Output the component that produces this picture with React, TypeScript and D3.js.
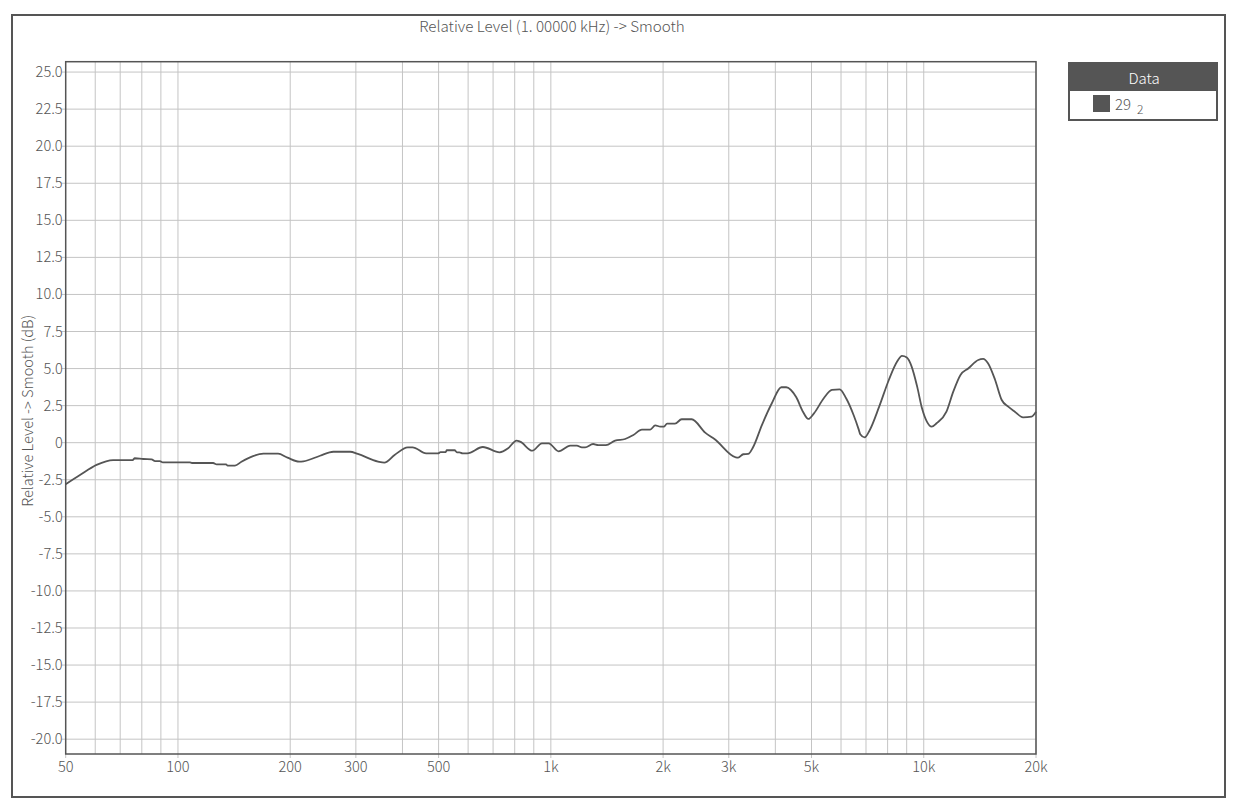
import React from "react";
import * as d3 from "d3";

const title = "Relative Level (1. 00000 kHz) -> Smooth";
const yLabel = "Relative Level -> Smooth (dB)";
const legendTitle = "Data";
const seriesName = "29";
const seriesSub = "2";

const xTickValues = [50, 100, 200, 300, 500, 1000, 2000, 3000, 5000, 10000, 20000];
const xTickLabels = ["50", "100", "200", "300", "500", "1k", "2k", "3k", "5k", "10k", "20k"];
const xGridValues = [60, 70, 80, 90, 100, 200, 300, 400, 500, 600, 700, 800, 900, 1000, 2000, 3000, 4000, 5000, 6000, 7000, 8000, 9000, 10000, 20000];
const yTickValues = [25, 22.5, 20, 17.5, 15, 12.5, 10, 7.5, 5, 2.5, 0, -2.5, -5, -7.5, -10, -12.5, -15, -17.5, -20];

const freqs = [
  50, 54.6, 60.5, 67, 75.6, 76.6, 80.7, 85, 86.8, 89.4, 91.1, 107.6, 109, 124.3, 127, 134.6, 135.9, 142.2, 148, 159, 169.5, 185.5, 196.7, 211.5, 216.9, 240.5, 261,
  289.5, 303.6, 344, 357.6, 381, 413.5, 425.7, 463, 498.6, 506, 522.5, 526, 552, 560, 568.5, 580, 597, 657, 729, 768, 809, 827, 892, 946.6, 986.5, 1049, 1127, 1174, 1211, 1236, 1298,
  1340, 1405, 1487, 1582, 1665, 1755, 1847, 1905, 1966, 2008, 2050, 2152, 2243, 2386, 2593, 2752, 3133, 3180, 3280, 3382, 3485, 3681, 3914, 4152, 4277,
  4552, 4743, 4903, 5077, 5394, 5674, 5952, 6192, 6484, 6691, 6756, 6940, 7151, 7594, 8060, 8484, 8742, 9008, 9280, 9602, 9893, 10195, 10503, 10823, 11505, 12000,
  12546, 13185, 14002, 14433, 14869, 15540, 16185, 16850, 17550, 18465, 19460, 20000,
];
const levels = [
  -2.8, -2.18, -1.5, -1.17, -1.17, -1.05, -1.1, -1.12, -1.24, -1.24, -1.33, -1.33, -1.37, -1.37, -1.46, -1.46, -1.55, -1.55, -1.28, -0.9, -0.74, -0.74, -1.01, -1.28, -1.26, -0.88, -0.61,
  -0.61, -0.76, -1.28, -1.35, -0.83, -0.31, -0.31, -0.72, -0.72, -0.63, -0.63, -0.51, -0.51, -0.65, -0.65, -0.72, -0.72, -0.29, -0.65, -0.38, 0.14, 0.07, -0.54, -0.04, -0.04, -0.58, -0.2, -0.2, -0.31, -0.31, -0.09,
  -0.16, -0.16, 0.14, 0.25, 0.52, 0.88, 0.88, 1.17, 1.08, 1.08, 1.28, 1.28, 1.58, 1.58, 0.68, 0.23, -0.99, -1.01, -0.78, -0.76, -0.31, 1.19, 2.66, 3.74, 3.74,
  3.06, 2.09, 1.6, 1.98, 3.0, 3.56, 3.6, 3.0, 1.87, 0.9, 0.57, 0.36, 0.81, 2.43, 4.23, 5.47, 5.85, 5.74, 5.13, 3.78, 2.32, 1.42, 1.08, 1.31, 2.09, 3.44,
  4.57, 5.02, 5.58, 5.65, 5.36, 4.23, 2.88, 2.43, 2.09, 1.71, 1.76, 2.09,
];

const W = 1235;
const H = 809;
const plot = { left: 65.7, right: 1036, top: 61.7, bottom: 754 };
const FONT = "'Noto Sans CJK SC', 'Noto Sans', sans-serif";
const DARK = "#555";
const GRID = "#c4c4c4";
const TEXT = "#555";

export default function App() {
  const x = d3.scaleLog().domain([50, 20000]).range([plot.left, plot.right]);
  const y = d3.scaleLinear().domain([-21, 25.7]).range([plot.bottom, plot.top]);
  const data = freqs.map((f, i) => [f, levels[i]] as [number, number]);
  const line = d3
    .line<[number, number]>()
    .x((d) => x(d[0]))
    .y((d) => y(d[1]))
    .curve(d3.curveMonotoneX);

  return (
    <svg
      width={W}
      height={H}
      style={{ position: "absolute", left: 0, top: 0, background: "#fff", display: "block" }}
    >
      <rect x={0} y={0} width={W} height={H} fill="#fff" />
      <rect x={12} y={15} width={1213} height={782} fill="none" stroke={DARK} strokeWidth={2} />
      <text x={552} y={32} textAnchor="middle" fontFamily={FONT} fontSize={15.2} fontWeight={300} fill={TEXT}>
        {title}
      </text>

      {/* grid */}
      {xGridValues.map((v) => (
        <line key={"gx" + v} x1={x(v)} x2={x(v)} y1={plot.top} y2={plot.bottom} stroke={GRID} strokeWidth={1} />
      ))}
      {yTickValues.map((v) => (
        <line key={"gy" + v} x1={plot.left - 4} x2={plot.right} y1={y(v)} y2={y(v)} stroke={GRID} strokeWidth={1} />
      ))}
      {xTickValues.map((v) => (
        <line key={"tx" + v} x1={x(v)} x2={x(v)} y1={plot.bottom} y2={plot.bottom + 4} stroke={GRID} strokeWidth={1} />
      ))}

      {/* plot frame */}
      <rect
        x={plot.left}
        y={plot.top}
        width={plot.right - plot.left}
        height={plot.bottom - plot.top}
        fill="none"
        stroke={DARK}
        strokeWidth={1.5}
      />

      {/* y ticks */}
      {yTickValues.map((v) => (
        <text key={"ly" + v} x={plot.left - 3} y={y(v) + 5} textAnchor="end" fontFamily={FONT} fontSize={14.6} fontWeight={300} fill={TEXT}>
          {v === 0 ? "0" : v.toFixed(1)}
        </text>
      ))}
      {/* x ticks */}
      {xTickValues.map((v, i) => (
        <text key={"lx" + v} x={x(v)} y={772} textAnchor="middle" fontFamily={FONT} fontSize={14.6} fontWeight={300} fill={TEXT}>
          {xTickLabels[i]}
        </text>
      ))}

      <text
        transform={`translate(33, ${(plot.top + plot.bottom) / 2 + 3}) rotate(-90)`}
        textAnchor="middle"
        fontFamily={FONT}
        fontSize={14.6}
        fontWeight={300}
        fill={TEXT}
      >
        {yLabel}
      </text>

      {/* curve */}
      <path d={line(data) || ""} fill="none" stroke={DARK} strokeWidth={1.8} strokeLinejoin="round" />

      {/* legend */}
      <rect x={1069} y={63} width={148} height={57} fill="#fff" stroke={DARK} strokeWidth={2} />
      <rect x={1069} y={63} width={148} height={28} fill={DARK} />
      <text x={1144} y={84} textAnchor="middle" fontFamily={FONT} fontSize={15} fontWeight={300} fill="#fff">
        {legendTitle}
      </text>
      <rect x={1093} y={95} width={17} height={17} fill={DARK} />
      <text x={1115} y={110} fontFamily={FONT} fontSize={15} fontWeight={300} fill={TEXT}>
        {seriesName}
      </text>
      <text x={1137} y={114} fontFamily={FONT} fontSize={12} fontWeight={300} fill={TEXT}>
        {seriesSub}
      </text>
    </svg>
  );
}
